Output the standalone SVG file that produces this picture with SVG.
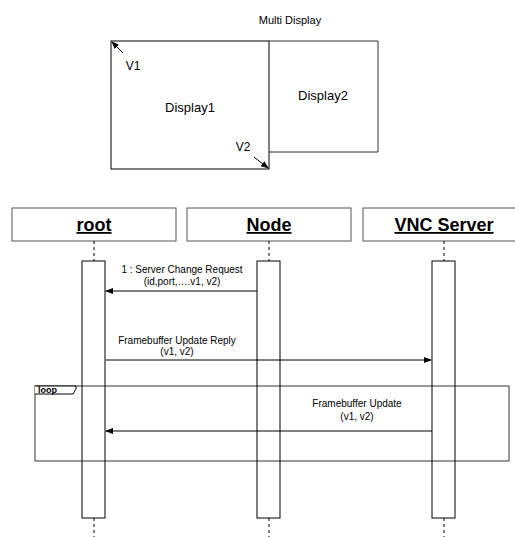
<svg xmlns="http://www.w3.org/2000/svg" width="515" height="537" viewBox="0 0 515 537">
<style>
text{font-family:"Liberation Sans",Arial,Helvetica,sans-serif;fill:#000}
.hd{font-size:18px;font-weight:bold;text-decoration:underline;text-anchor:middle}
.lbl{font-size:10px;text-anchor:middle}
.dl{font-size:13px;text-anchor:middle}
.box{fill:#fff;stroke:#555;stroke-width:1}
.act{fill:#fff;stroke:#000;stroke-width:1}
.ll{stroke:#000;stroke-width:1;stroke-dasharray:3,3;fill:none}
.msg{stroke:#000;stroke-width:1;fill:none}
</style>
<defs>
<marker id="ah" markerWidth="8" markerHeight="6" refX="7" refY="3" orient="auto" markerUnits="userSpaceOnUse">
<path d="M0,0 L8,3 L0,6 z" fill="#000"/>
</marker>
</defs>
<rect width="515" height="537" fill="#fff"/>
<g id="multi-display">
<text x="290" y="24" style="font-size:11px;text-anchor:middle">Multi Display</text>
<rect x="111" y="41" width="158" height="128" fill="#fff" stroke="#000"/>
<path d="M269,41 H378 V152 H269" fill="none" stroke="#333"/>
<text x="190" y="112" class="dl">Display1</text>
<text x="323" y="100" class="dl">Display2</text>
<text x="133" y="70" style="font-size:12px;text-anchor:middle">V1</text>
<text x="243" y="151" style="font-size:12px;text-anchor:middle">V2</text>
<line x1="123" y1="53" x2="112" y2="42" class="msg" marker-end="url(#ah)"/>
<line x1="254" y1="157" x2="268" y2="168" class="msg" marker-end="url(#ah)"/>
</g>
<g id="root">
<rect x="12" y="208" width="164" height="33" class="box"/>
<text x="94" y="231" class="hd">root</text>
<line x1="94" y1="241" x2="94" y2="261" class="ll"/>
<rect x="82" y="261" width="23" height="257" class="act"/>
<line x1="94" y1="518" x2="94" y2="537" class="ll"/>
</g>
<g id="node">
<rect x="187" y="208" width="164" height="33" class="box"/>
<text x="269" y="231" class="hd">Node</text>
<line x1="269" y1="241" x2="269" y2="261" class="ll"/>
<rect x="257" y="261" width="23" height="257" class="act"/>
<line x1="269" y1="518" x2="269" y2="537" class="ll"/>
</g>
<g id="vnc-server">
<rect x="363" y="208" width="164" height="33" class="box"/>
<text x="444" y="231" class="hd">VNC Server</text>
<line x1="444" y1="241" x2="444" y2="261" class="ll"/>
<rect x="432" y="261" width="23" height="257" class="act"/>
<line x1="444" y1="518" x2="444" y2="537" class="ll"/>
</g>
<g id="loop-frame">
<rect x="35" y="386" width="474" height="75" fill="none" stroke="#000" stroke-opacity="0.8"/>
<path d="M35,386 H76 V389 L73,394 H35" fill="#fff" stroke="#000"/>
<text x="38" y="393" style="font-size:9px;font-weight:bold">loop</text>
</g>
<g id="connectors">
<line x1="257" y1="291" x2="106" y2="291" class="msg" marker-end="url(#ah)"/>
<text x="182" y="273" class="lbl">1 : Server Change Request</text>
<text x="182" y="285" class="lbl">(id,port,….v1, v2)</text>
<line x1="106" y1="360" x2="431" y2="360" class="msg" marker-end="url(#ah)"/>
<text x="177" y="344" class="lbl">Framebuffer Update Reply</text>
<text x="177" y="355" class="lbl">(v1, v2)</text>
<line x1="432" y1="431" x2="106" y2="431" class="msg" marker-end="url(#ah)"/>
<text x="357" y="407" class="lbl">Framebuffer Update</text>
<text x="357" y="420" class="lbl">(v1, v2)</text>
</g>
</svg>
